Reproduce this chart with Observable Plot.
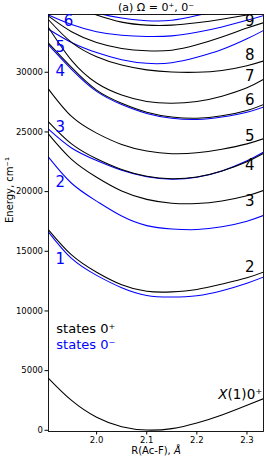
<!DOCTYPE html>
<html>
<head>
<meta charset="utf-8">
<script src="https://cdn.jsdelivr.net/npm/d3@7"></script>
<script src="https://cdn.jsdelivr.net/npm/@observablehq/plot@0.6"></script>
<style>
  html, body { margin: 0; padding: 0; background: white; }
  #chart svg { display: block; }
</style>
</head>
<body>
<div id="chart"></div>
<script>
// Internuclear distance grid (Å)
const R = [1.904, 1.95, 2.0, 2.05, 2.1, 2.15, 2.2, 2.25, 2.3, 2.333];

// States 0+ (black), energies in cm^-1
const plusX1 = [4355, 2500, 1090, 300, 20, 140, 610, 1280, 2094, 2655];
const plus2  = [16800, 14700, 13250, 12200, 11650, 11600, 11800, 12250, 12780, 13260];
const plus3  = [24815, 22700, 21200, 20050, 19350, 19030, 19000, 19220, 19650, 20100];
const plus4  = [25850, 24000, 22750, 21850, 21280, 21080, 21220, 21720, 22500, 23200];
const plus5  = [28590, 26300, 24900, 23950, 23400, 23180, 23250, 23550, 24000, 24430];
const plus6  = [32440, 30400, 28500, 27400, 26650, 26250, 26150, 26350, 26800, 27300];
const plus7  = [33750, 31000, 29100, 28100, 27550, 27400, 27550, 28000, 28700, 29400];
const plus8  = [34400, 32500, 31300, 30600, 30200, 30020, 30000, 30150, 30550, 30950];
const plus9  = [34700, 33400, 32500, 32000, 31800, 31850, 32300, 32950, 33700, 34150];
const plus10 = [36000, 35500, 34800, 34200, 33950, 33950, 34150, 34450, 34800, 35000];

// States 0- (blue)
const minus1 = [16610, 14400, 12980, 11950, 11300, 11170, 11280, 11700, 12330, 12840];
const minus2 = [22890, 20700, 19200, 17950, 17150, 16870, 16820, 17050, 17520, 18000];
const minus3 = [25230, 23650, 22600, 21780, 21240, 21040, 21200, 21730, 22580, 23310];
const minus4 = [32300, 30250, 28400, 27300, 26550, 26150, 26050, 26250, 26650, 27080];
const minus5 = [33610, 32500, 31650, 31050, 30750, 30800, 31250, 31900, 32800, 33500];
const minus6 = [34800, 34000, 33400, 33100, 33000, 33050, 33350, 33800, 34350, 34750];
const minus7 = [36200, 35800, 35000, 34550, 34320, 34350, 34750, 35200, 35600, 35900];

// Curve labels: text, R, energy
const labelsMinus = [["1", 1.9275, 14300], ["2", 1.9275, 20800], ["3", 1.9275, 25400],
                     ["4", 1.9275, 30090], ["5", 1.9275, 32100], ["6", 1.944, 34250]];
const labelsPlus  = [["2", 2.3054, 13680], ["3", 2.3054, 19200], ["4", 2.3054, 22190],
                     ["5", 2.3054, 24620], ["6", 2.3054, 27640], ["7", 2.3054, 29650],
                     ["8", 2.3054, 31410], ["9", 2.3054, 34290]];
const groundLabel = ["X(1)0⁺", 2.3307, 3015];
const legendTexts = [["states 0⁺", 1.9196, 8517, "plus"], ["states 0⁻", 1.9196, 7177, "minus"]];

const yTicks = [0, 5000, 10000, 15000, 20000, 25000, 30000];
const xTicks = [2.0, 2.1, 2.2, 2.3];

const BLUE = "#0000ff";
const series = [
  ["p1", "plus", plusX1], ["p2", "plus", plus2], ["p3", "plus", plus3], ["p4", "plus", plus4],
  ["p5", "plus", plus5], ["p6", "plus", plus6], ["p7", "plus", plus7], ["p8", "plus", plus8],
  ["p9", "plus", plus9], ["p10", "plus", plus10],
  ["m1", "minus", minus1], ["m2", "minus", minus2], ["m3", "minus", minus3], ["m4", "minus", minus4],
  ["m5", "minus", minus5], ["m6", "minus", minus6], ["m7", "minus", minus7]
];
const rows = series.flatMap(([id, kind, vals]) => vals.map((E, i) => ({id, kind, R: R[i], E})));
const minusRows = rows.filter(d => d.kind === "minus");
const plusRows = rows.filter(d => d.kind === "plus");

const font = "DejaVu Sans, sans-serif";

const chart = Plot.plot({
  width: 266,
  height: 461,
  marginTop: 14,
  marginLeft: 48,
  marginRight: 3,
  marginBottom: 30,
  style: {fontFamily: font, fontSize: "8.5px", background: "white", color: "black"},
  x: {domain: [1.904, 2.333]},
  y: {domain: [-100, 34840]},
  marks: [
    Plot.line(minusRows, {x: "R", y: "E", z: "id", stroke: BLUE, strokeWidth: 1.05, curve: "natural", clip: true}),
    Plot.line(plusRows, {x: "R", y: "E", z: "id", stroke: "black", strokeWidth: 1.05, curve: "natural", clip: true}),
    Plot.frame({stroke: "black", strokeWidth: 0.9}),
    Plot.axisY({ticks: yTicks, tickFormat: d => String(d), tickSize: 3.5, tickPadding: 2, label: null, fontSize: "8.5px"}),
    Plot.axisX({ticks: xTicks, tickFormat: d3.format(".1f"), tickSize: 3.5, tickPadding: 2, label: null, fontSize: "8.5px"}),
    Plot.text(labelsMinus, {x: d => d[1], y: d => d[2], text: d => d[0], fill: BLUE, fontSize: 15}),
    Plot.text(labelsPlus, {x: d => d[1], y: d => d[2], text: d => d[0], fill: "black", fontSize: 15}),
    Plot.text([groundLabel], {x: d => d[1], y: d => d[2], text: d => d[0], fill: "black", fontSize: 13.5, textAnchor: "end", className: "ground-label"}),
    Plot.text(legendTexts, {x: d => d[1], y: d => d[2], text: d => d[0], fill: d => d[3] === "plus" ? "black" : BLUE, fontSize: 13, textAnchor: "start"}),
    Plot.text(["(a) Ω = 0⁺, 0⁻"], {frameAnchor: "top", lineAnchor: "middle", dy: -7, fontSize: 11, fill: "black"}),
    Plot.text(["R(Ac-F), Å"], {frameAnchor: "bottom", lineAnchor: "middle", dy: 19, fontSize: 10, fill: "black", className: "xlabel"}),
    Plot.text(["Energy, cm⁻¹"], {frameAnchor: "left", dx: -39, rotate: -90, fontSize: 10, fill: "black"})
  ]
});

document.getElementById("chart").appendChild(chart);

// Italic X in the ground-state label
d3.select(chart).selectAll(".ground-label text").each(function() {
  const t = d3.select(this);
  t.text(null);
  t.append("tspan").attr("font-style", "italic").text("X");
  t.append("tspan").text("(1)0⁺");
});
d3.select(chart).selectAll(".xlabel text").each(function() {
  const t = d3.select(this);
  t.text(null);
  t.append("tspan").text("R(Ac-F), ");
  t.append("tspan").attr("font-style", "italic").text("Å");
});
</script>
</body>
</html>
